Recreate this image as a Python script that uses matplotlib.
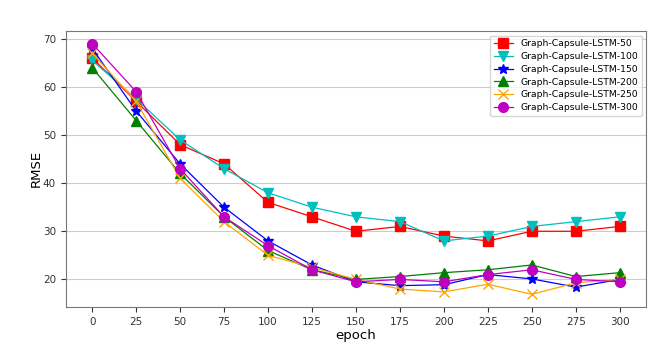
import numpy as np
import matplotlib.pyplot as plt

epoch = [0, 25, 50, 75, 100, 125, 150, 175, 200, 225, 250, 275, 300]

rmse_50 = [66, 57, 48, 44, 36, 33, 30, 31, 29, 28, 30, 30, 31]
rmse_100 = [65.5, 57.5, 49, 43, 38, 35, 33, 32, 28, 29, 31, 32, 33]
rmse_150 = [68, 55, 44, 35, 28, 23, 19.5, 18.7, 18.9, 21, 20.1, 18.4, 20]
rmse_200 = [64, 53, 42, 33, 26, 22, 20, 20.6, 21.4, 22, 23, 20.6, 21.4]
rmse_250 = [67, 57, 41, 32, 25, 22.5, 20, 18, 17.4, 19, 16.9, 19.3, 20]
rmse_300 = [69, 59, 43, 33, 27, 22, 19.5, 20, 19.5, 21, 22, 20, 19.5]

fig = plt.figure(figsize=(6.71, 3.56), dpi=100)
ax = fig.add_axes([0.098, 0.138, 0.865, 0.775])

ax.plot(epoch, rmse_50, color='r', marker='s', markersize=7, lw=0.9, label='Graph-Capsule-LSTM-50')
ax.plot(epoch, rmse_100, color='c', marker='v', markersize=7, lw=0.9, label='Graph-Capsule-LSTM-100')
ax.plot(epoch, rmse_150, color='b', marker='*', markersize=7, lw=0.9, label='Graph-Capsule-LSTM-150')
ax.plot(epoch, rmse_200, color='g', marker='^', markersize=7, lw=0.9, label='Graph-Capsule-LSTM-200')
ax.plot(epoch, rmse_250, color='orange', marker='x', markersize=7, lw=0.9, label='Graph-Capsule-LSTM-250')
ax.plot(epoch, rmse_300, color='m', marker='o', markersize=7, lw=0.9, label='Graph-Capsule-LSTM-300')

ax.set_xticks(epoch)
ax.tick_params(labelsize=7.5, colors='#333333')
ax.grid(axis='y', color='#cccccc')
ax.set_axisbelow(True)
ax.set_xlabel('epoch', fontsize=9.5, labelpad=2)
ax.set_ylabel('RMSE', fontsize=9.5, labelpad=0)
ax.legend(loc='upper right', fontsize=6.7, labelspacing=0.4)
for s in ax.spines.values():
    s.set_color('#777777')

plt.savefig('out.png')
